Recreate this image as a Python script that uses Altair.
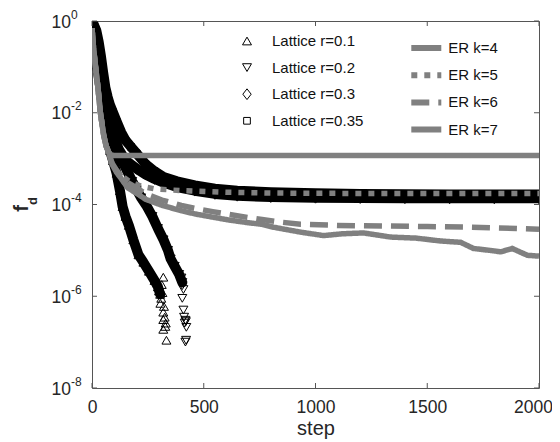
import altair as alt
import pandas as pd

FONT = "Liberation Sans"

# ---------------- Lattice series (black open markers) ----------------
lat_names = ["Lattice r=0.1", "Lattice r=0.2", "Lattice r=0.3", "Lattice r=0.35"]

r01_steps = [0, 5, 10, 15, 20, 30, 40, 54, 65, 81, 94, 110, 125, 137, 150, 165, 185, 208, 230, 255, 280, 295, 305]
r01_vals = [0.8, 0.7, 0.5, 0.3, 0.15, 0.06, 0.03, 0.01, 0.0045, 1.5e-3, 9e-4, 4.8e-4, 2e-4, 9e-5, 5.5e-5,
            3.5e-5, 1.7e-5, 8e-6, 5.5e-6, 3.5e-6, 2.2e-6, 1.6e-6, 1.1e-6]
r01_tail_steps = [300, 306, 310, 312, 315, 319, 319, 322, 319, 325, 328, 330, 319, 333]
r01_tail_vals = [1.3e-6, 7e-7, 9e-7, 1.8e-6, 1.2e-6, 2.6e-6, 4.5e-7, 6e-7, 3.1e-7, 3.5e-7, 2.2e-7, 2.6e-7, 1.9e-7, 1.1e-7]

r02_steps = [0, 5, 10, 15, 20, 30, 40, 50, 60, 70, 80, 100, 120, 140, 160, 180, 200, 220, 246, 270, 295,
             320, 340, 352, 370, 390, 404]
r02_vals = [0.8, 0.75, 0.6, 0.45, 0.3, 0.13, 0.06, 0.028, 0.014, 0.0075, 0.0045, 2.2e-3, 1.3e-3, 8e-4, 5e-4,
            3.2e-4, 2.1e-4, 1.4e-4, 9e-5, 5.5e-5, 3e-5, 1.7e-5, 1e-5, 6.5e-6, 4.5e-6, 3e-6, 2e-6]
r02_tail_steps = [400, 404, 409, 404, 409, 412, 418, 415, 420, 422, 418, 421]
r02_tail_vals = [2.5e-6, 1.7e-6, 1.4e-6, 9e-7, 5e-7, 3.5e-7, 3e-7, 2.6e-7, 2.8e-7, 2.1e-7, 1e-7, 1.1e-7]

r03_steps = [0, 10, 20, 30, 40, 50, 60, 70, 80, 90, 100, 120, 140, 160, 200, 240, 280, 320, 380, 460, 550,
             650, 800, 1000, 1200, 1400, 1600, 1800, 2000]
r03_vals = [0.85, 0.75, 0.5, 0.25, 0.1, 0.045, 0.02, 0.011, 0.0065, 0.004, 2.8e-3, 1.6e-3, 1.1e-3, 8.5e-4,
            6e-4, 4.5e-4, 3.6e-4, 3e-4, 2.4e-4, 2e-4, 1.7e-4, 1.55e-4, 1.45e-4, 1.4e-4, 1.38e-4, 1.37e-4,
            1.36e-4, 1.36e-4, 1.36e-4]

r035_steps = [0, 10, 20, 30, 40, 50, 60, 70, 80, 93, 110, 130, 150, 175, 200, 240, 280, 320, 380, 460, 550,
              650, 800, 1000, 1200, 1400, 1600, 1800, 2000]
r035_vals = [0.85, 0.8, 0.6, 0.35, 0.17, 0.075, 0.035, 0.022, 0.015, 0.0105, 6.5e-3, 3.8e-3, 2.5e-3, 1.8e-3,
             1.3e-3, 7.6e-4, 5.3e-4, 4e-4, 3.2e-4, 2.6e-4, 2.2e-4, 2e-4, 1.85e-4, 1.75e-4, 1.7e-4, 1.68e-4,
             1.66e-4, 1.66e-4, 1.66e-4]

# ---------------- ER series (thick grey lines) ----------------
er_names = ["ER k=4", "ER k=5", "ER k=6", "ER k=7"]
er_head_steps = [0, 7, 15, 27, 37, 52, 63, 74]
er_head_vals = [0.7, 0.25, 0.11, 0.034, 0.0105, 0.0033, 0.0019, 0.0014]

k4_steps = [85, 100, 150, 300, 600, 1000, 1500, 2000]
k4_vals = [1.2e-3, 1.17e-3, 1.17e-3, 1.17e-3, 1.17e-3, 1.17e-3, 1.17e-3, 1.17e-3]

k5_steps = [90, 110, 130, 170, 220, 280, 400, 600, 800, 1000, 1500, 2000]
k5_vals = [7.5e-4, 5.5e-4, 4.3e-4, 3.1e-4, 2.5e-4, 2.2e-4, 2e-4, 1.85e-4, 1.78e-4, 1.75e-4, 1.74e-4, 1.74e-4]

k6_steps = [90, 110, 130, 160, 200, 240, 313, 400, 463, 540, 612, 700, 761, 850, 933, 1100, 1300, 1500,
            1700, 1900, 2000]
k6_vals = [8e-4, 5.5e-4, 4.2e-4, 3.0e-4, 2.3e-4, 1.7e-4, 1.25e-4, 9.5e-5, 8.2e-5, 7e-5, 6.1e-5, 5.2e-5, 4.7e-5,
           4.1e-5, 3.7e-5, 3.5e-5, 3.4e-5, 3.3e-5, 3.2e-5, 3.0e-5, 2.9e-5]

k7_steps = [90, 110, 130, 160, 200, 240, 313, 400, 463, 540, 612, 700, 761, 812, 933, 1036, 1120, 1215, 1336,
            1450, 1560, 1649, 1707, 1780, 1829, 1880, 1920, 1948, 2000]
k7_vals = [7.5e-4, 5e-4, 3.7e-4, 2.3e-4, 1.75e-4, 1.3e-4, 9.6e-5, 7.3e-5, 6.2e-5, 5.3e-5, 4.6e-5, 4e-5, 3.7e-5,
           3.2e-5, 2.5e-5, 2.1e-5, 2.3e-5, 2.4e-5, 1.95e-5, 1.85e-5, 1.6e-5, 1.5e-5, 1.1e-5, 1.0e-5, 9.3e-6,
           1.1e-5, 9e-6, 7.8e-6, 7.5e-6]

# ---------------- axes ----------------
x_tick_vals = [0, 500, 1000, 1500, 2000]
y_tick_vals = [1, 1e-2, 1e-4, 1e-6, 1e-8]
y_tick_exps = ["0", "-2", "-4", "-6", "-8"]

# ---------------- tables ----------------
lat_rows = []
for name, s, v, ts, tv in [
    (lat_names[0], r01_steps, r01_vals, r01_tail_steps, r01_tail_vals),
    (lat_names[1], r02_steps, r02_vals, r02_tail_steps, r02_tail_vals),
    (lat_names[2], r03_steps, r03_vals, [], []),
    (lat_names[3], r035_steps, r035_vals, [], []),
]:
    for a, b in zip(s, v):
        lat_rows.append({"series": name, "step": a, "val": b, "part": "band"})
    for a, b in zip(ts, tv):
        lat_rows.append({"series": name, "step": a, "val": b, "part": "tail"})
lat_df = pd.DataFrame(lat_rows)

er_rows = []
for name, s, v in [(er_names[0], k4_steps, k4_vals), (er_names[1], k5_steps, k5_vals),
                   (er_names[2], k6_steps, k6_vals), (er_names[3], k7_steps, k7_vals)]:
    for a, b in zip(er_head_steps + s, er_head_vals + v):
        er_rows.append({"series": name, "step": a, "val": b})
er_df = pd.DataFrame(er_rows)

xt_df = pd.DataFrame({"step": x_tick_vals})
yt_df = pd.DataFrame({"val": y_tick_vals, "exp": y_tick_exps})

W, H = 447, 367

X = alt.X("step:Q", scale=alt.Scale(domain=[0, 2000], nice=False, zero=False),
          axis=alt.Axis(values=x_tick_vals, title="step", ticks=False, domain=False, grid=False,
                        labelFontSize=17.5, labelPadding=10, titleFontSize=20, titlePadding=3,
                        labelFlush=False, labelOverlap=False, format="d",
                        labelOffset={"condition": {"test": "datum.value == 2000", "value": -6}, "value": 0}))
Y = alt.Y("val:Q", scale=alt.Scale(type="log", domain=[1e-8, 1], nice=False), axis=None)

band = alt.Chart(lat_df).transform_filter(alt.datum.part == "band").mark_line(
    color="black", strokeWidth=10, strokeCap="round", strokeJoin="round", clip=True
).encode(x=X, y=Y, detail="series:N")

shape_range = ["triangle-up", "triangle-down",
               "M0,-1.2L0.93,0L0,1.2L-0.93,0Z",
               "M-0.75,-0.75L0.75,-0.75L0.75,0.75L-0.75,0.75Z"]

points = alt.Chart(lat_df).mark_point(
    filled=False, color="black", strokeWidth=1, size=80, opacity=1, clip=True
).encode(
    x=X, y=Y,
    shape=alt.Shape("series:N", scale=alt.Scale(domain=lat_names, range=shape_range),
                    legend=alt.Legend(orient="none", legendX=147.5, legendY=12.5, title=None,
                                      labelFontSize=15, labelFont=FONT, labelColor="#111111",
                                      symbolSize=80, symbolStrokeColor="black", symbolStrokeWidth=1,
                                      rowPadding=10.6, labelOffset=17.5, padding=0)),
)

er_lines = alt.Chart(er_df).mark_line(color="#808080", strokeWidth=5.5, clip=True).encode(
    x=X, y=Y,
    strokeDash=alt.StrokeDash("series:N",
                              scale=alt.Scale(domain=er_names, range=[[1, 0], [6, 7], [18, 9], [1, 0]]),
                              legend=alt.Legend(orient="none", legendX=321.3, legendY=14, title=None,
                                                symbolType="M-1.5,0H1.5", symbolStrokeWidth=6,
                                                symbolStrokeColor="#808080", symbolSize=400,
                                                symbolFillColor="transparent",
                                                labelOffset=9, rowPadding=2.2, labelFontSize=15,
                                                labelFont=FONT, labelColor="#111111", padding=0)),
)

tick_col = "#555555"
xt_bottom = alt.Chart(xt_df).mark_rule(color=tick_col, strokeWidth=1).encode(
    x=X, y=alt.value(H), y2=alt.value(H - 5))
xt_top = alt.Chart(xt_df).mark_rule(color=tick_col, strokeWidth=1).encode(
    x=X, y=alt.value(0), y2=alt.value(5))
yt_left = alt.Chart(yt_df).mark_rule(color=tick_col, strokeWidth=1).encode(
    y=Y, x=alt.value(0), x2=alt.value(5))
yt_right = alt.Chart(yt_df).mark_rule(color=tick_col, strokeWidth=1).encode(
    y=Y, x=alt.value(W - 5), x2=alt.value(W))

ylab_base = alt.Chart(yt_df).mark_text(
    align="right", baseline="alphabetic", dy=6.5, fontSize=17.5, font=FONT, color="#262626"
).encode(y=Y, x=alt.value(-21), text=alt.value("10"))
ylab_exp = alt.Chart(yt_df).mark_text(
    align="left", baseline="alphabetic", dy=-2.5, fontSize=12, font=FONT, color="#262626"
).encode(y=Y, x=alt.value(-21), text="exp:N")

f_df = pd.DataFrame({"t": ["f"]})
d_df = pd.DataFrame({"t": ["d"]})
ytitle_f = alt.Chart(f_df).mark_text(
    angle=270, align="center", baseline="alphabetic", fontSize=20, fontWeight="bold", font=FONT,
    color="#262626"
).encode(x=alt.value(-63.7), y=alt.value(187.5), text="t:N")
ytitle_d = alt.Chart(d_df).mark_text(
    angle=270, align="center", baseline="alphabetic", fontSize=13, fontWeight="bold", font=FONT,
    color="#262626"
).encode(x=alt.value(-54.7), y=alt.value(180), text="t:N")

chart = alt.layer(
    band, points, er_lines, xt_bottom, xt_top, yt_left, yt_right, ylab_base, ylab_exp, ytitle_f, ytitle_d
).properties(
    width=W, height=H,
    padding={"left": 84, "top": 13, "right": 13, "bottom": 52},
    autosize=alt.AutoSizeParams(type="none"),
).configure_view(
    stroke="#555555", strokeWidth=1
).configure_axis(
    labelFont=FONT, titleFont=FONT, labelColor="#262626", titleColor="#262626", titleFontWeight="normal"
).configure_legend(
    labelFont=FONT
)

chart.save("out.html", embed_options={"renderer": "svg", "actions": False})
